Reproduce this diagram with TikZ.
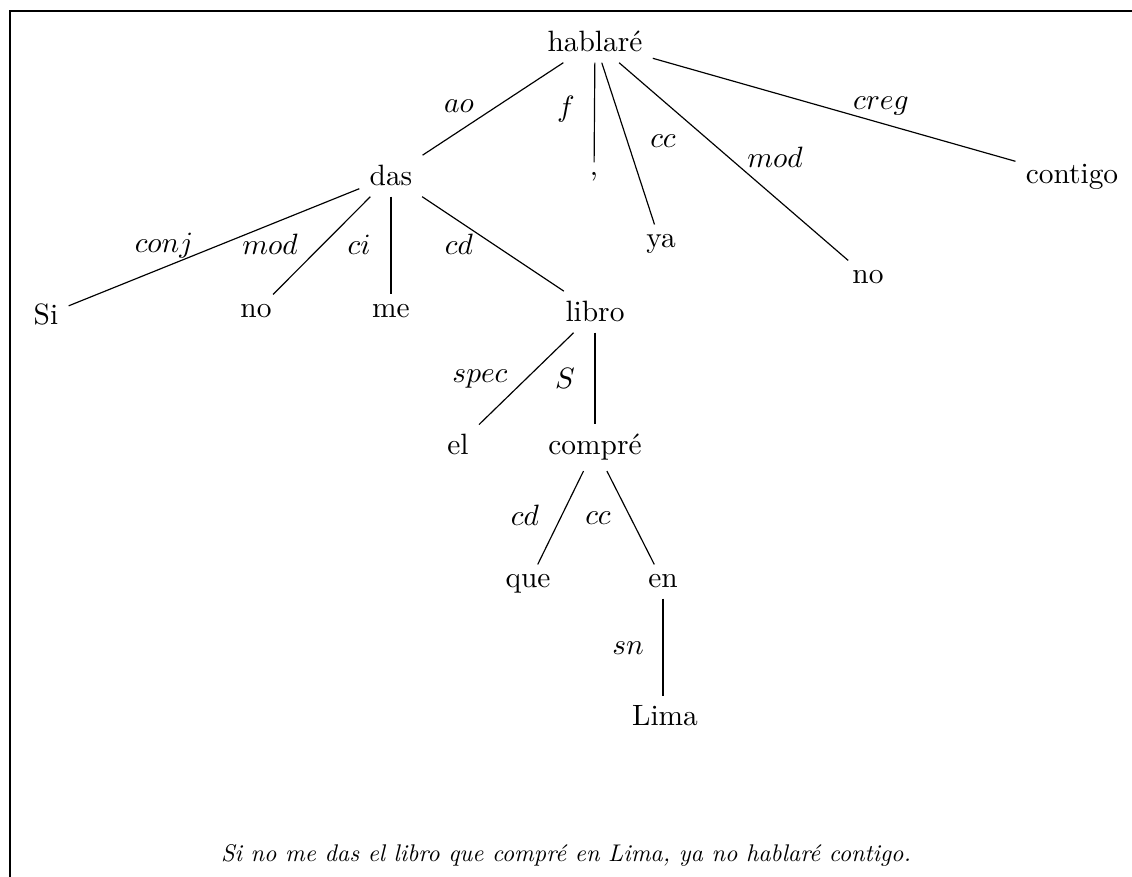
\documentclass[tikz,border=0pt]{standalone}
\usepackage{graphicx}
\begin{document}
\begin{tikzpicture}[x=0.34pt,y=-0.34pt,
  word/.style={anchor=base,inner sep=0.333em},
  rel/.style={anchor=base,inner sep=0pt},
  edge/.style={draw=black,line width=0.4pt}]
\useasboundingbox (0,0) rectangle (1132,877);
\coordinate (fTL) at (10,11);
\coordinate (fTR) at (1132,11);
\coordinate (fBL) at (10,877);
\draw[line width=0.5pt] (fTR) -- (fTL) -- (fBL);
% words
\node[word] (hablare) at (595,52) {hablaré};
\node[word] (das) at (391,186) {das};
\node[word] (comma) at (594,176) {,};
\node[word] (ya) at (661,248) {ya};
\node[word] (noR) at (868,284) {no};
\node[word] (contigo) at (1072,184) {contigo};
\node[word] (si) at (46,325) {Si};
\node[word] (noL) at (256,318) {no};
\node[word] (me) at (391,318) {me};
\node[word] (libro) at (595,322) {libro};
\node[word] (el) at (458,455) {el};
\node[word] (compre) at (595,455) {compré};
\node[word] (que) at (528,588) {que};
\node[word] (en) at (663,588) {en};
\node[word] (lima) at (665,726) {Lima};
% edges
\draw[edge] (hablare) -- (das);
\draw[edge] (hablare) -- (comma);
\draw[edge] (hablare) -- (ya);
\draw[edge] (hablare) -- (noR);
\draw[edge] (hablare) -- (contigo);
\draw[edge] (das) -- (si);
\draw[edge] (das) -- (noL);
\draw[edge] (das) -- (me);
\draw[edge] (das) -- (libro);
\draw[edge] (libro) -- (el);
\draw[edge] (libro) -- (compre);
\draw[edge] (compre) -- (que);
\draw[edge] (compre) -- (en);
\draw[edge] (en) -- (en|-lima.north);
% relation labels
\node[rel] (l1) at (459,113) {$ao$};
\node[rel] (l2) at (566,117) {$f$};
\node[rel] (l3) at (663,148) {$cc$};
\node[rel] (l4) at (775,168) {$mod$};
\node[rel] (l5) at (881,110) {$creg$};
\node[rel] (l6) at (164,253) {$conj$};
\node[rel] (l7) at (270,255) {$mod$};
\node[rel] (l8) at (359,255) {$ci$};
\node[rel] (l9) at (459,255) {$cd$};
\node[rel] (l10) at (480,383) {$spec$};
\node[rel] (l11) at (565,389) {$S$};
\node[rel] (l12) at (525,526) {$cd$};
\node[rel] (l13) at (598,525) {$cc$};
\node[rel] (l14) at (628,655) {$sn$};
% sentence
\node[rel] (sent) at (566,862) {\scalebox{0.82}{\itshape Si no me das el libro que compré en Lima, ya no hablaré contigo.}};
\end{tikzpicture}
\end{document}
